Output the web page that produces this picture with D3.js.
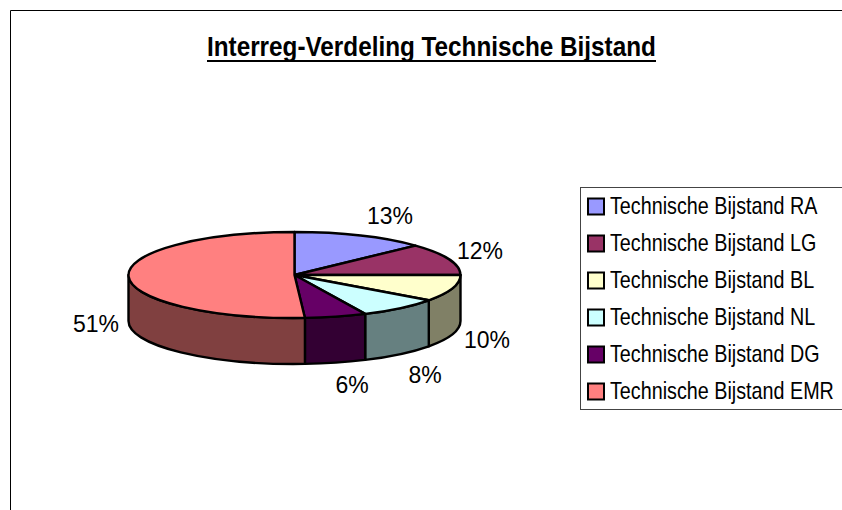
<!DOCTYPE html>
<html>
<head>
<meta charset="utf-8">
<script src="https://cdnjs.cloudflare.com/ajax/libs/d3/7.8.5/d3.min.js"></script>
<style>
	html, body { margin: 0; padding: 0; background: #fff; }
	svg { display: block; }
	text { font-family: "Liberation Sans", Arial, sans-serif; fill: #000; }
</style>
</head>
<body>
<script>
var categories = ["Technische Bijstand RA", "Technische Bijstand LG", "Technische Bijstand BL", "Technische Bijstand NL", "Technische Bijstand DG", "Technische Bijstand EMR"];
var shares = [13, 12, 10, 8, 6, 51];
var colours = ["#9999ff", "#993366", "#ffffcc", "#ccffff", "#660066", "#ff8080"];
var titleText = "Interreg-Verdeling Technische Bijstand";

var width = 842, height = 510;
var cx = 294.5, cy = 275, rx = 166, ry = 43, depth = 46;

//Label spots, as centre x and baseline y per slice
var labelSpots = [[390, 224], [480, 259], [487, 348], [425, 383], [352, 393], [96, 332]];

var svg = d3.select("body").append("svg")
	.attr("width", width)
	.attr("height", height);

//Frame, only left and top are inside the picture
svg.append("path")
	.attr("d", "M10.5," + height + "V10.5H" + width)
	.attr("fill", "none")
	.attr("stroke", "#000")
	.attr("stroke-width", 1);

//Squeezes a text sideways so it is as wide as the original's narrow rendering
var squeeze = function(sel, x, y, factor) {
	sel.attr("transform", "translate(" + x + "," + y + ") scale(" + factor + ",1)");
};

//Title
var title = svg.append("text")
	.attr("text-anchor", "start")
	.attr("font-size", 28)
	.attr("font-weight", "bold")
	.text(titleText);
squeeze(title, 207, 56, 449 / title.node().getComputedTextLength());

svg.append("rect")
	.attr("x", 207).attr("y", 60).attr("width", 449).attr("height", 2).attr("fill", "#000");

//Pie
var slices = d3.pie().sort(null).value(function(d) { return d; })(shares);

var px = function(a) { return cx + rx * Math.sin(a); };
var py = function(a) { return cy - ry * Math.cos(a); };

var wallColour = function(c) { return d3.interpolateRgb(c, "#000")(0.5); };

var wallPath = function(a0, a1) {
	var large = a1 - a0 > Math.PI ? 1 : 0;
	return "M" + px(a0) + "," + py(a0)
		+ "A" + rx + "," + ry + " 0 " + large + " 1 " + px(a1) + "," + py(a1)
		+ "v" + depth
		+ "A" + rx + "," + ry + " 0 " + large + " 0 " + px(a0) + "," + (py(a0) + depth)
		+ "Z";
};

var topPath = function(d) {
	var large = d.endAngle - d.startAngle > Math.PI ? 1 : 0;
	return "M" + cx + "," + cy
		+ "L" + px(d.startAngle) + "," + py(d.startAngle)
		+ "A" + rx + "," + ry + " 0 " + large + " 1 " + px(d.endAngle) + "," + py(d.endAngle)
		+ "Z";
};

//Walls: only the front half of the rim can be seen
var walls = slices.map(function(d, i) {
	return {
		a0: Math.max(d.startAngle, Math.PI / 2),
		a1: Math.min(d.endAngle, Math.PI * 1.5),
		colour: colours[i]
	};
}).filter(function(d) { return d.a1 > d.a0; });

svg.selectAll(".wall")
	.data(walls)
	.enter()
	.append("path")
	.attr("class", "wall")
	.attr("d", function(d) { return wallPath(d.a0, d.a1); })
	.attr("fill", function(d) { return wallColour(d.colour); })
	.attr("stroke", "#000")
	.attr("stroke-width", 2.4)
	.attr("stroke-linejoin", "round");

svg.selectAll(".slice")
	.data(slices)
	.enter()
	.append("path")
	.attr("class", "slice")
	.attr("d", topPath)
	.attr("fill", function(d, i) { return colours[i]; })
	.attr("stroke", "#000")
	.attr("stroke-width", 2.4)
	.attr("stroke-linejoin", "round");

//Percent labels
svg.selectAll(".pct")
	.data(shares)
	.enter()
	.append("text")
	.attr("class", "pct")
	.attr("x", function(d, i) { return labelSpots[i][0]; })
	.attr("y", function(d, i) { return labelSpots[i][1]; })
	.attr("text-anchor", "middle")
	.attr("font-size", 23)
	.text(function(d) { return d + "%"; });

//Legend
var y = d3.scalePoint().domain(categories).range([206.5, 391.5]);

svg.append("rect")
	.attr("x", 580.5)
	.attr("y", 187.5)
	.attr("width", 270)
	.attr("height", 222)
	.attr("fill", "#fff")
	.attr("stroke", "#444")
	.attr("stroke-width", 1);

var rows = svg.selectAll(".row")
	.data(categories)
	.enter()
	.append("g")
	.attr("class", "row")
	.attr("transform", function(d) { return "translate(0," + y(d) + ")"; });

rows.append("rect")
	.attr("x", 588)
	.attr("y", -8)
	.attr("width", 16)
	.attr("height", 16)
	.attr("fill", function(d, i) { return colours[i]; })
	.attr("stroke", "#000")
	.attr("stroke-width", 2);

var labels = rows.append("text")
	.attr("font-size", 24)
	.text(function(d) { return d; });

//All rows share the factor of the longest one
var longest = d3.max(labels.nodes(), function(n) { return n.getComputedTextLength(); });
labels.call(squeeze, 610, 7, 224 / longest);
</script>
</body>
</html>
